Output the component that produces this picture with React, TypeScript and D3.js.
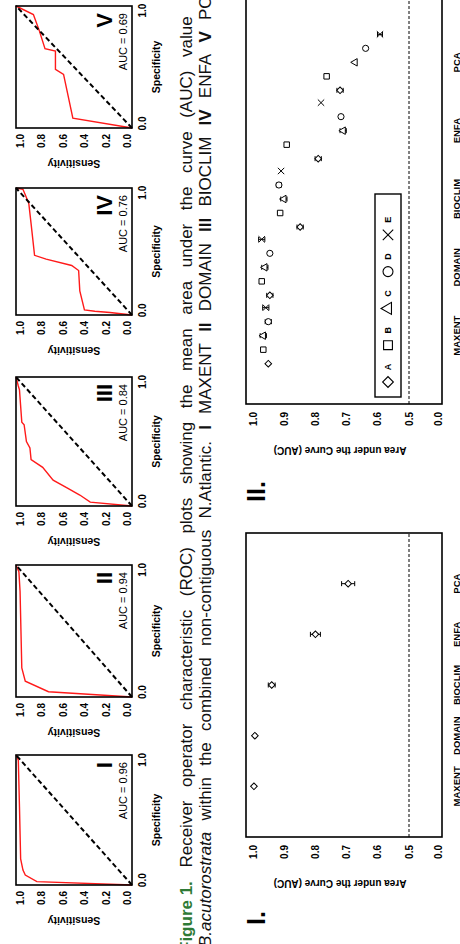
import React, { useEffect, useRef } from 'react';
import * as d3 from 'd3';

const FONT = '"Liberation Sans", Arial, Helvetica, sans-serif';

// ROC panels, top row of the (landscape) page
const rocNumerals = ['I', 'II', 'III', 'IV', 'V'];
const rocAuc = ['0.96', '0.94', '0.84', '0.76', '0.69'];
const rocSpecI = [0, 0.026, 0.077, 0.115, 0.2, 0.6, 0.96, 1];
const rocSensI = [0, 0.82, 0.92, 0.94, 0.96, 0.97, 0.98, 1];
const rocSpecII = [0, 0.04, 0.12, 0.22, 0.8, 0.95, 1];
const rocSensII = [0, 0.72, 0.92, 0.95, 0.965, 0.975, 1];
const rocSpecIII = [0, 0.03, 0.085, 0.14, 0.2, 0.3, 0.36, 0.45, 0.5, 0.63, 0.65, 0.9, 0.93, 1];
const rocSensIII = [0, 0.36, 0.45, 0.56, 0.68, 0.77, 0.87, 0.88, 0.91, 0.93, 0.95, 0.97, 0.98, 1];
const rocSpecIV = [0, 0.02, 0.03, 0.04, 0.19, 0.35, 0.39, 0.44, 0.47, 0.72, 0.88, 0.99, 1];
const rocSensIV = [0, 0.19, 0.32, 0.41, 0.45, 0.46, 0.52, 0.74, 0.84, 0.87, 0.89, 0.94, 1];
const rocSpecV = [0, 0.08, 0.44, 0.48, 0.63, 0.65, 0.8, 0.93, 1];
const rocSensV = [0, 0.51, 0.59, 0.66, 0.66, 0.75, 0.8, 0.85, 1];
const rocSpec = [rocSpecI, rocSpecII, rocSpecIII, rocSpecIV, rocSpecV];
const rocSens = [rocSensI, rocSensII, rocSensIII, rocSensIV, rocSensV];
const rocTicks = [0, 0.2, 0.4, 0.6, 0.8, 1];

// bottom panels
const methods = ['MAXENT', 'DOMAIN', 'BIOCLIM', 'ENFA', 'PCA'];
const meanAuc = [0.997, 0.994, 0.94, 0.8, 0.695];
const meanErr = [0, 0.004, 0.011, 0.016, 0.021];
const seriesKeys = ['A', 'B', 'C', 'D', 'E'];
const aucA = [0.951, 0.946, 0.849, 0.791, 0.721];
const aucB = [0.967, 0.972, 0.913, 0.892, 0.764];
const aucC = [0.967, 0.962, 0.901, 0.711, 0.673];
const aucD = [0.951, 0.946, 0.917, 0.718, 0.639];
const aucE = [0.959, 0.972, 0.91, 0.782, 0.593];
const errA = [0, 0.01, 0.01, 0.01, 0.01];
const errB = [0, 0, 0, 0, 0];
const errC = [0.01, 0.01, 0.01, 0.01, 0];
const errD = [0.01, 0, 0.008, 0, 0];
const errE = [0.01, 0.01, 0, 0, 0.008];
const seriesAuc = [aucA, aucB, aucC, aucD, aucE];
const seriesErr = [errA, errB, errC, errD, errE];
const aucTicks = [1, 0.9, 0.8, 0.7, 0.6, 0.5, 0.405];
const aucTickLabels = ['1.0', '0.9', '0.8', '0.7', '0.6', '0.5', '0.0'];

// caption
const capWords1 = ['Figure 1.', 'Receiver', 'operator', 'characteristic', '(ROC)', 'plots', 'showing', 'the', 'mean', 'area', 'under', 'the', 'curve', '(AUC)', 'value'];
const capStyle1 = ['g', 'n', 'n', 'n', 'n', 'n', 'n', 'n', 'n', 'n', 'n', 'n', 'n', 'n', 'n'];
const capWords2 = ['B.acutorostrata', 'within', 'the', 'combined', 'non-contiguous', 'N.Atlantic.', 'I', 'MAXENT', 'II', 'DOMAIN', 'III', 'BIOCLIM', 'IV', 'ENFA', 'V', 'PCA'];
const capStyle2 = ['i', 'n', 'n', 'n', 'n', 'n', 'b', 'n', 'b', 'n', 'b', 'n', 'b', 'n', 'b', 'n'];

// layout (landscape coords: u across, v down)
const rocU = [59, 247, 438, 629, 816];
const rocW = [130, 132, 129, 127, 122];
const rocTop = 16, rocBottom = 132;
const boxTop = 246, boxBottom = 442;

const symbolFor = (k: string, size: number) => {
  if (k === 'A') return d3.symbol(d3.symbolSquare, size)() as string;
  if (k === 'B') return d3.symbol(d3.symbolSquare, size)() as string;
  if (k === 'C') return d3.symbol(d3.symbolTriangle, size)() as string;
  if (k === 'D') return d3.symbol(d3.symbolCircle, size)() as string;
  return d3.symbol(d3.symbolX, size)() as string;
};
const ptSize: any = { A: 22, B: 30, C: 24, D: 30, E: 28 };

const yAuc = d3.scaleLinear().domain([0.5, 1]).range([409, 253]);

function RocPanel({ i }: { i: number }) {
  const u0 = rocU[i], w = rocW[i];
  const x = d3.scaleLinear().domain([0, 1]).range([u0, u0 + w]);
  const y = d3.scaleLinear().domain([0, 1]).range([rocBottom, rocTop]);
  const xt = d3.scaleLinear().domain([-0.04, 1.04]).range([u0, u0 + w]);
  const yt = d3.scaleLinear().domain([-0.04, 1.04]).range([rocBottom, rocTop]);
  const line = d3.line<number>().x((d, k) => x(rocSpec[i][k])).y(d => y(d));
  return (
    <g>
      <path d={line(rocSens[i]) || ''} fill="none" stroke="#ff1a1a" strokeWidth={1.4} />
      <line x1={x(0)} y1={y(0)} x2={x(1)} y2={y(1)} stroke="#000" strokeWidth={2} strokeDasharray="5,3" />
      <rect x={u0} y={rocTop} width={w} height={rocBottom - rocTop} fill="none" stroke="#000" strokeWidth={1.6} />
      {rocTicks.map(t => (
        <text key={t} x={u0 - 6} y={yt(t)} textAnchor="end" dominantBaseline="central" fontSize={10} fontWeight="bold">{t.toFixed(1)}</text>
      ))}
      {[0, 1].map(t => (
        <text key={t} x={xt(t)} y={142.5} textAnchor="middle" dominantBaseline="central" fontSize={10} fontWeight="bold">{t.toFixed(1)}</text>
      ))}
      <text x={u0 + w / 2} y={156} textAnchor="middle" dominantBaseline="central" fontSize={10.5} fontWeight="bold">Specificity</text>
      <text transform={`translate(${u0 - 36},${(rocTop + rocBottom) / 2}) rotate(-90)`} textAnchor="middle" dominantBaseline="central" fontSize={10.5} fontWeight="bold">Sensitivity</text>
      <text x={u0 + w - 7} y={112} textAnchor="end" fontSize={22} fontWeight="bold">{rocNumerals[i]}</text>
      <text x={u0 + w - 7} y={127} textAnchor="end" fontSize={11}>AUC = {rocAuc[i]}</text>
    </g>
  );
}

function AxisBits({ u0, u1, title, label }: { u0: number; u1: number; title: number; label: number }) {
  return (
    <g>
      <rect x={u0} y={boxTop} width={u1 - u0} height={boxBottom - boxTop} fill="none" stroke="#000" strokeWidth={1.6} />
      <line x1={u0} x2={u1} y1={yAuc(0.5)} y2={yAuc(0.5)} stroke="#000" strokeWidth={1} strokeDasharray="3,2" />
      {aucTicks.map((t, k) => (
        <text key={k} x={u0 - 8} y={yAuc(t)} textAnchor="end" dominantBaseline="central" fontSize={10} fontWeight="bold">{aucTickLabels[k]}</text>
      ))}
      <text transform={`translate(${title},${(boxTop + boxBottom) / 2 - 4}) rotate(-90)`} textAnchor="middle" dominantBaseline="central" fontSize={10} fontWeight="bold">Area under the Curve (AUC)</text>
      <text x={label} y={265} fontSize={25} fontWeight="bold">{label < 100 ? 'I.' : 'II.'}</text>
    </g>
  );
}

function ErrBar({ u, v, e }: { u: number; v: number; e: number }) {
  if (!e) return null;
  const a = yAuc(v - e), b = yAuc(v + e);
  return (
    <g stroke="#000" strokeWidth={1}>
      <line x1={u} x2={u} y1={a} y2={b} />
      <line x1={u - 2.5} x2={u + 2.5} y1={a} y2={a} />
      <line x1={u - 2.5} x2={u + 2.5} y1={b} y2={b} />
    </g>
  );
}

export default function App() {
  const capRef = useRef<SVGGElement>(null);

  const x1 = d3.scalePoint().domain(methods).range([107, 411]).padding(1);
  const x2 = d3.scalePoint().domain(methods).range([540, 950]).padding(1);
  const inner = d3.scalePoint().domain(seriesKeys).range([-28, 28]);

  useEffect(() => {
    const g = d3.select(capRef.current);
    g.selectAll('*').remove();
    const lines = [
      { words: capWords1, style: capStyle1, v: 192, start: -8, anchor: 887 },
      { words: capWords2, style: capStyle2, v: 211, start: -3, anchor: 924 },
    ];
    lines.forEach(L => {
      const texts = L.words.map((w, k) =>
        g.append('text')
          .attr('y', L.v)
          .attr('font-size', 17)
          .attr('font-weight', L.style[k] === 'b' || L.style[k] === 'g' ? 'bold' : 'normal')
          .attr('font-style', L.style[k] === 'i' ? 'italic' : 'normal')
          .attr('fill', L.style[k] === 'g' ? '#2f7a36' : '#111')
          .text(w)
      );
      const widths = texts.map(t => (t.node() as SVGTextElement).getComputedTextLength());
      const n = L.words.length;
      const sum = d3.sum(widths.slice(0, n - 1));
      const gap = (L.anchor - L.start - sum) / (n - 1);
      let pos = L.start;
      texts.forEach((t, k) => {
        t.attr('x', pos);
        pos += widths[k] + gap;
      });
    });
  }, []);

  return (
    <svg width={460} height={944} style={{ position: 'absolute', left: 0, top: 0, display: 'block', background: '#fff' }} fontFamily={FONT}>
      <rect width={460} height={944} fill="#fff" />
      <g transform="translate(0,944) rotate(-90)">
        {rocNumerals.map((_, i) => <RocPanel key={i} i={i} />)}
        <g ref={capRef} />

        {/* I. mean AUC per method */}
        <AxisBits u0={107} u1={411} title={61} label={19} />
        {methods.map((m, k) => (
          <g key={m}>
            <ErrBar u={x1(m)!} v={meanAuc[k]} e={meanErr[k]} />
            <path d={symbolFor('A', 22)} transform={`translate(${x1(m)},${yAuc(meanAuc[k])}) rotate(45)`} fill="#fff" stroke="#000" strokeWidth={1} />
            <text x={x1(m)} y={460} textAnchor="middle" fontSize={9.5} fontWeight="bold">{m}</text>
          </g>
        ))}

        {/* II. AUC per method and data set */}
        <AxisBits u0={540} u1={950} title={494} label={442} />
        {methods.map((m, k) => (
          <g key={m}>
            {seriesKeys.map((s, j) => {
              const u = x2(m)! + inner(s)!;
              return (
                <g key={s}>
                  <ErrBar u={u} v={seriesAuc[j][k]} e={seriesErr[j][k]} />
                  <path d={symbolFor(s, ptSize[s])} transform={`translate(${u},${yAuc(seriesAuc[j][k])})${s === 'A' ? ' rotate(45)' : ''}`} fill="#fff" stroke="#000" strokeWidth={1} />
                </g>
              );
            })}
            <text x={x2(m)} y={460} textAnchor="middle" fontSize={9.5} fontWeight="bold">{m}</text>
          </g>
        ))}
        <rect x={547} y={375} width={203} height={26} fill="#fff" stroke="#000" strokeWidth={1.4} />
        {seriesKeys.map((s, j) => {
          const u = 562 + j * 36.8;
          return (
            <g key={s}>
              <path d={symbolFor(s, ptSize[s] * 2.6)} transform={`translate(${u},388)${s === 'A' ? ' rotate(45)' : ''}`} fill="none" stroke="#000" strokeWidth={1.1} />
              <text x={u + 15} y={388} textAnchor="middle" dominantBaseline="central" fontSize={9} fontWeight="bold">{s}</text>
            </g>
          );
        })}
      </g>
    </svg>
  );
}
